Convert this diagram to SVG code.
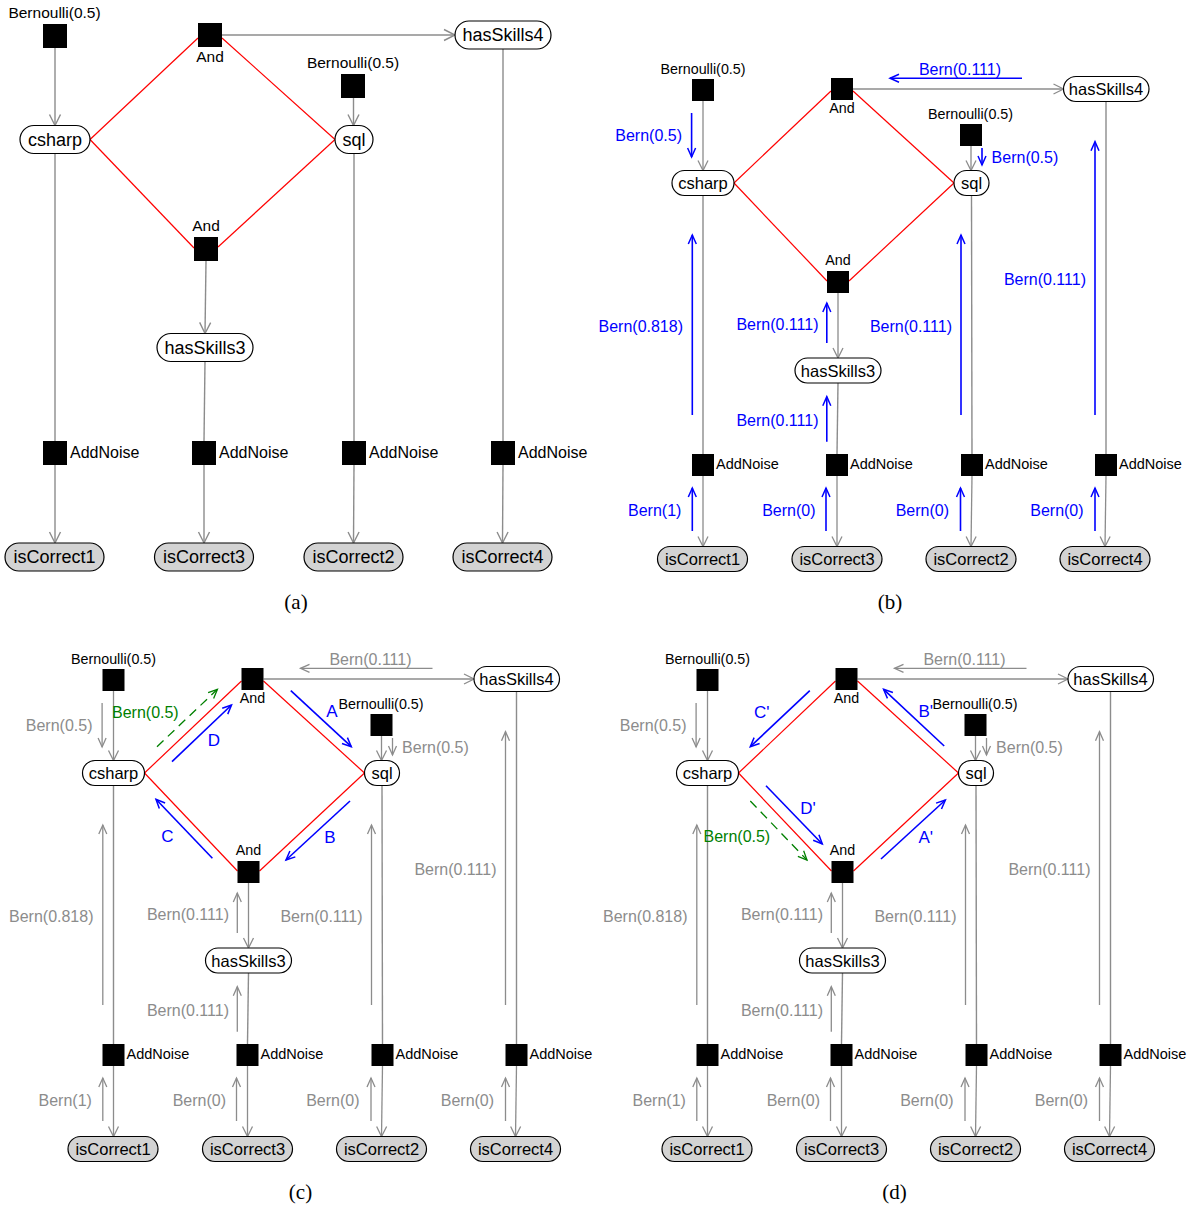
<svg xmlns="http://www.w3.org/2000/svg" width="1189" height="1209" viewBox="0 0 1189 1209">
<style>
text{font-family:"Liberation Sans",Arial,sans-serif;fill:#000}
.n{fill:#fff;stroke:#000;stroke-width:1.2}
.o{fill:#d3d3d3;stroke:#000;stroke-width:1.2}
.f{fill:#000}
.e{stroke:#8c8c8c;stroke-width:1.4;fill:none}
.ea{stroke:#8c8c8c;stroke-width:1.4;fill:none;marker-end:url(#ga)}
.eb{stroke:#8c8c8c;stroke-width:1.3;fill:none;marker-end:url(#gb)}
.r{stroke:#ff0000;stroke-width:1.2;fill:none}
.ta{font-size:18px;text-anchor:middle}
.sa{font-size:15.5px;text-anchor:middle}
.na{font-size:16px}
.tb{font-size:16.5px;text-anchor:middle}
.sb{font-size:14.3px;text-anchor:middle}
.nb{font-size:14.5px}
.l{font-size:16px}
.end{text-anchor:end}
.mid{text-anchor:middle}
.blue .m{stroke:#0000ff;stroke-width:1.6;fill:none;marker-end:url(#bl)}
.blue .l{fill:#0000ff}
.grey .m{stroke:#8c8c8c;stroke-width:1.3;fill:none;marker-end:url(#gm)}
.grey .l{fill:#8c8c8c}
.ab{stroke:#0000ff;stroke-width:1.6;fill:none;marker-end:url(#bl)}
.ablab{font-size:17px;fill:#0000ff;text-anchor:middle}
.gd{stroke:#008000;stroke-width:1.3;fill:none;stroke-dasharray:9,6;marker-end:url(#gr)}
.gl{font-size:16px;fill:#008000}
.cap{font-family:"Liberation Serif","Times New Roman",serif;font-size:21px;text-anchor:middle}
</style>
<defs>
<marker id="ga" markerUnits="userSpaceOnUse" markerWidth="14" markerHeight="14" refX="11" refY="6" orient="auto" overflow="visible"><path d="M0,0.5 L11,6 L0,11.5" fill="none" stroke="#8c8c8c" stroke-width="1.4"/></marker>
<marker id="gb" markerUnits="userSpaceOnUse" markerWidth="12" markerHeight="12" refX="10" refY="5" orient="auto" overflow="visible"><path d="M0,0 L10,5 L0,10" fill="none" stroke="#8c8c8c" stroke-width="1.3"/></marker>
<marker id="bl" markerUnits="userSpaceOnUse" markerWidth="10" markerHeight="10" refX="9" refY="4" orient="auto" overflow="visible"><path d="M0,0 L9,4 L0,8" fill="none" stroke="#0000ff" stroke-width="1.5"/></marker>
<marker id="gm" markerUnits="userSpaceOnUse" markerWidth="10" markerHeight="10" refX="9" refY="4" orient="auto" overflow="visible"><path d="M0,0 L9,4 L0,8" fill="none" stroke="#8c8c8c" stroke-width="1.3"/></marker>
<marker id="gr" markerUnits="userSpaceOnUse" markerWidth="10" markerHeight="10" refX="9" refY="4" orient="auto" overflow="visible"><path d="M0,0 L9,4 L0,8" fill="none" stroke="#008000" stroke-width="1.3"/></marker>
</defs>

<!-- ================= Panel (a) ================= -->
<g id="panel-a">
<g id="a-connectors">
<line class="ea" x1="55" y1="48" x2="55" y2="125.5"/>
<line class="ea" x1="353.5" y1="98" x2="353.5" y2="125.5"/>
<line class="ea" x1="222" y1="35" x2="455" y2="35"/>
<line class="ea" x1="206" y1="261" x2="205" y2="333.5"/>
<line class="e" x1="55" y1="153.5" x2="55" y2="441"/>
<line class="e" x1="205" y1="361.5" x2="204" y2="441"/>
<line class="e" x1="354" y1="153.5" x2="354" y2="441"/>
<line class="e" x1="503" y1="49" x2="503" y2="441"/>
<line class="ea" x1="55" y1="465" x2="55" y2="543"/>
<line class="ea" x1="204" y1="465" x2="204" y2="543"/>
<line class="ea" x1="354" y1="465" x2="353.5" y2="543"/>
<line class="ea" x1="503" y1="465" x2="502.5" y2="543"/>
<line class="r" x1="90" y1="139.5" x2="198" y2="38"/>
<line class="r" x1="222" y1="38" x2="335" y2="139.5"/>
<line class="r" x1="90" y1="139.5" x2="194" y2="248"/>
<line class="r" x1="335" y1="139.5" x2="218" y2="247"/>
</g>
<g id="a-bern1"><text class="sa" x="54.5" y="18">Bernoulli(0.5)</text><rect class="f" x="43" y="24" width="24" height="24"/></g>
<g id="a-csharp"><rect class="n" x="20" y="125.5" width="70" height="28" rx="14"/><text class="ta" x="55" y="145.8">csharp</text></g>
<g id="a-and1"><rect class="f" x="198" y="23" width="24" height="24"/><text class="sa" x="210" y="62">And</text></g>
<g id="a-bern2"><text class="sa" x="353" y="68">Bernoulli(0.5)</text><rect class="f" x="341" y="74" width="24" height="24"/></g>
<g id="a-sql"><rect class="n" x="335" y="125.5" width="38" height="28" rx="14"/><text class="ta" x="354" y="145.8">sql</text></g>
<g id="a-hasSkills4"><rect class="n" x="455" y="21" width="96" height="28" rx="14"/><text class="ta" x="503" y="41.3">hasSkills4</text></g>
<g id="a-and2"><text class="sa" x="206" y="231">And</text><rect class="f" x="194" y="237" width="24" height="24"/></g>
<g id="a-hasSkills3"><rect class="n" x="157" y="333.5" width="96" height="28" rx="14"/><text class="ta" x="205" y="353.8">hasSkills3</text></g>
<g id="a-addnoise1"><rect class="f" x="43" y="441" width="24" height="24"/><text class="na" x="70" y="457.5">AddNoise</text></g>
<g id="a-addnoise2"><rect class="f" x="192" y="441" width="24" height="24"/><text class="na" x="219" y="457.5">AddNoise</text></g>
<g id="a-addnoise3"><rect class="f" x="342" y="441" width="24" height="24"/><text class="na" x="369" y="457.5">AddNoise</text></g>
<g id="a-addnoise4"><rect class="f" x="491" y="441" width="24" height="24"/><text class="na" x="518" y="457.5">AddNoise</text></g>
<g id="a-isCorrect1"><rect class="o" x="5" y="543" width="99" height="28" rx="14"/><text class="ta" x="54.5" y="563.3">isCorrect1</text></g>
<g id="a-isCorrect3"><rect class="o" x="154.5" y="543" width="99" height="28" rx="14"/><text class="ta" x="204" y="563.3">isCorrect3</text></g>
<g id="a-isCorrect2"><rect class="o" x="304" y="543" width="99" height="28" rx="14"/><text class="ta" x="353.5" y="563.3">isCorrect2</text></g>
<g id="a-isCorrect4"><rect class="o" x="453" y="543" width="99" height="28" rx="14"/><text class="ta" x="502.5" y="563.3">isCorrect4</text></g>
<text class="cap" x="296" y="609">(a)</text>
</g>

<!-- ================= Panel (b) ================= -->
<g id="panel-b" class="blue">
<g id="b-connectors">
<line class="eb" x1="703" y1="101" x2="703" y2="170.5"/>
<line class="eb" x1="971" y1="146" x2="971" y2="170.5"/>
<line class="eb" x1="853" y1="89" x2="1063.5" y2="89"/>
<line class="eb" x1="838" y1="293" x2="838" y2="358"/>
<line class="e" x1="703" y1="195.5" x2="703" y2="454"/>
<line class="e" x1="838" y1="383" x2="837" y2="454"/>
<line class="e" x1="971.5" y1="195.5" x2="972" y2="454"/>
<line class="e" x1="1106" y1="101.5" x2="1106" y2="454"/>
<line class="eb" x1="703" y1="476" x2="703" y2="546.5"/>
<line class="eb" x1="837" y1="476" x2="837" y2="546.5"/>
<line class="eb" x1="972" y1="476" x2="971" y2="546.5"/>
<line class="eb" x1="1106" y1="476" x2="1105" y2="546.5"/>
<line class="r" x1="734" y1="183" x2="831" y2="91"/>
<line class="r" x1="853" y1="91" x2="954" y2="183"/>
<line class="r" x1="734" y1="183" x2="827" y2="281"/>
<line class="r" x1="954" y1="183" x2="849" y2="281"/>
</g>
<g id="b-messages">
<line class="m" x1="1022" y1="78.3" x2="890" y2="78.3"/><text class="l mid" x="960" y="74.5">Bern(0.111)</text>
<line class="m" x1="691.6" y1="113" x2="691.6" y2="157"/><text class="l end" x="682" y="140.5">Bern(0.5)</text>
<line class="m" x1="982" y1="148" x2="982" y2="165"/><text class="l" x="991.6" y="162.5">Bern(0.5)</text>
<line class="m" x1="692.3" y1="415" x2="692.3" y2="235"/><text class="l end" x="683" y="331.5">Bern(0.818)</text>
<line class="m" x1="826.8" y1="343" x2="826.8" y2="303"/><text class="l end" x="818.5" y="329.5">Bern(0.111)</text>
<line class="m" x1="961" y1="415" x2="961" y2="235"/><text class="l end" x="952" y="331.5">Bern(0.111)</text>
<line class="m" x1="1095" y1="415" x2="1095" y2="141.7"/><text class="l end" x="1086" y="284.5">Bern(0.111)</text>
<line class="m" x1="826.8" y1="441.7" x2="826.8" y2="396.7"/><text class="l end" x="818.5" y="425.5">Bern(0.111)</text>
<line class="m" x1="692.3" y1="531" x2="692.3" y2="488"/><text class="l end" x="681.4" y="515.5">Bern(1)</text>
<line class="m" x1="826" y1="531" x2="826" y2="488"/><text class="l end" x="815.5" y="515.5">Bern(0)</text>
<line class="m" x1="960.5" y1="531" x2="960.5" y2="488"/><text class="l end" x="949" y="515.5">Bern(0)</text>
<line class="m" x1="1095" y1="531" x2="1095" y2="488"/><text class="l end" x="1083.6" y="515.5">Bern(0)</text>
</g>
<g id="b-bern1"><text class="sb" x="703" y="74">Bernoulli(0.5)</text><rect class="f" x="692" y="79" width="22" height="22"/></g>
<g id="b-csharp"><rect class="n" x="672" y="170.5" width="62" height="25" rx="12.5"/><text class="tb" x="703" y="189">csharp</text></g>
<g id="b-and1"><rect class="f" x="831" y="78" width="22" height="22"/><text class="sb" x="842" y="113">And</text></g>
<g id="b-bern2"><text class="sb" x="970.5" y="119">Bernoulli(0.5)</text><rect class="f" x="960" y="124" width="22" height="22"/></g>
<g id="b-sql"><rect class="n" x="954" y="170.5" width="35" height="25" rx="12.5"/><text class="tb" x="971.5" y="189">sql</text></g>
<g id="b-hasSkills4"><rect class="n" x="1063.5" y="76.5" width="85.5" height="25" rx="12.5"/><text class="tb" x="1106" y="95">hasSkills4</text></g>
<g id="b-and2"><text class="sb" x="838" y="265">And</text><rect class="f" x="827" y="271" width="22" height="22"/></g>
<g id="b-hasSkills3"><rect class="n" x="795" y="358" width="86" height="25" rx="12.5"/><text class="tb" x="838" y="376.5">hasSkills3</text></g>
<g id="b-addnoise1"><rect class="f" x="692" y="454" width="22" height="22"/><text class="nb" x="716" y="469">AddNoise</text></g>
<g id="b-addnoise2"><rect class="f" x="826" y="454" width="22" height="22"/><text class="nb" x="850" y="469">AddNoise</text></g>
<g id="b-addnoise3"><rect class="f" x="961" y="454" width="22" height="22"/><text class="nb" x="985" y="469">AddNoise</text></g>
<g id="b-addnoise4"><rect class="f" x="1095" y="454" width="22" height="22"/><text class="nb" x="1119" y="469">AddNoise</text></g>
<g id="b-isCorrect1"><rect class="o" x="657.5" y="546.5" width="90" height="25" rx="12.5"/><text class="tb" x="702.5" y="565">isCorrect1</text></g>
<g id="b-isCorrect3"><rect class="o" x="792" y="546.5" width="90" height="25" rx="12.5"/><text class="tb" x="837" y="565">isCorrect3</text></g>
<g id="b-isCorrect2"><rect class="o" x="926" y="546.5" width="90" height="25" rx="12.5"/><text class="tb" x="971" y="565">isCorrect2</text></g>
<g id="b-isCorrect4"><rect class="o" x="1060" y="546.5" width="90" height="25" rx="12.5"/><text class="tb" x="1105" y="565">isCorrect4</text></g>
<text class="cap" x="890" y="609">(b)</text>
</g>

<!-- ================= Panel (c) ================= -->
<g id="panel-c" class="grey" transform="translate(-589.5,590)">
<g id="c-connectors">
<line class="eb" x1="703" y1="101" x2="703" y2="170.5"/>
<line class="eb" x1="971" y1="146" x2="971" y2="170.5"/>
<line class="eb" x1="853" y1="89" x2="1063.5" y2="89"/>
<line class="eb" x1="838" y1="293" x2="838" y2="358"/>
<line class="e" x1="703" y1="195.5" x2="703" y2="454"/>
<line class="e" x1="838" y1="383" x2="837" y2="454"/>
<line class="e" x1="971.5" y1="195.5" x2="972" y2="454"/>
<line class="e" x1="1106" y1="101.5" x2="1106" y2="454"/>
<line class="eb" x1="703" y1="476" x2="703" y2="546.5"/>
<line class="eb" x1="837" y1="476" x2="837" y2="546.5"/>
<line class="eb" x1="972" y1="476" x2="971" y2="546.5"/>
<line class="eb" x1="1106" y1="476" x2="1105" y2="546.5"/>
<line class="r" x1="734" y1="183" x2="831" y2="91"/>
<line class="r" x1="853" y1="91" x2="954" y2="183"/>
<line class="r" x1="734" y1="183" x2="827" y2="281"/>
<line class="r" x1="954" y1="183" x2="849" y2="281"/>
</g>
<g id="c-messages">
<line class="m" x1="1022" y1="78.3" x2="890" y2="78.3"/><text class="l mid" x="960" y="74.5">Bern(0.111)</text>
<line class="m" x1="691.6" y1="113" x2="691.6" y2="157"/><text class="l end" x="682" y="140.5">Bern(0.5)</text>
<line class="m" x1="982" y1="148" x2="982" y2="165"/><text class="l" x="991.6" y="162.5">Bern(0.5)</text>
<line class="m" x1="692.3" y1="415" x2="692.3" y2="235"/><text class="l end" x="683" y="331.5">Bern(0.818)</text>
<line class="m" x1="826.8" y1="343" x2="826.8" y2="303"/><text class="l end" x="818.5" y="329.5">Bern(0.111)</text>
<line class="m" x1="961" y1="415" x2="961" y2="235"/><text class="l end" x="952" y="331.5">Bern(0.111)</text>
<line class="m" x1="1095" y1="415" x2="1095" y2="141.7"/><text class="l end" x="1086" y="284.5">Bern(0.111)</text>
<line class="m" x1="826.8" y1="441.7" x2="826.8" y2="396.7"/><text class="l end" x="818.5" y="425.5">Bern(0.111)</text>
<line class="m" x1="692.3" y1="531" x2="692.3" y2="488"/><text class="l end" x="681.4" y="515.5">Bern(1)</text>
<line class="m" x1="826" y1="531" x2="826" y2="488"/><text class="l end" x="815.5" y="515.5">Bern(0)</text>
<line class="m" x1="960.5" y1="531" x2="960.5" y2="488"/><text class="l end" x="949" y="515.5">Bern(0)</text>
<line class="m" x1="1095" y1="531" x2="1095" y2="488"/><text class="l end" x="1083.6" y="515.5">Bern(0)</text>
<line class="gd" x1="746.5" y1="156.7" x2="806.9" y2="99.3"/><text class="gl" x="701.5" y="127.8">Bern(0.5)</text>
<line class="ab" x1="761.5" y1="171.7" x2="821" y2="115"/><text class="ablab" x="803.5" y="156">D</text>
<line class="ab" x1="880.3" y1="100.7" x2="940.8" y2="156.7"/><text class="ablab" x="921.5" y="127">A</text>
<line class="ab" x1="939.5" y1="211" x2="875.5" y2="270"/><text class="ablab" x="919.5" y="252.5">B</text>
<line class="ab" x1="801.9" y1="268.3" x2="745.5" y2="209.3"/><text class="ablab" x="757" y="252">C</text>
</g>
<g id="c-bern1"><text class="sb" x="703" y="74">Bernoulli(0.5)</text><rect class="f" x="692" y="79" width="22" height="22"/></g>
<g id="c-csharp"><rect class="n" x="672" y="170.5" width="62" height="25" rx="12.5"/><text class="tb" x="703" y="189">csharp</text></g>
<g id="c-and1"><rect class="f" x="831" y="78" width="22" height="22"/><text class="sb" x="842" y="113">And</text></g>
<g id="c-bern2"><text class="sb" x="970.5" y="119">Bernoulli(0.5)</text><rect class="f" x="960" y="124" width="22" height="22"/></g>
<g id="c-sql"><rect class="n" x="954" y="170.5" width="35" height="25" rx="12.5"/><text class="tb" x="971.5" y="189">sql</text></g>
<g id="c-hasSkills4"><rect class="n" x="1063.5" y="76.5" width="85.5" height="25" rx="12.5"/><text class="tb" x="1106" y="95">hasSkills4</text></g>
<g id="c-and2"><text class="sb" x="838" y="265">And</text><rect class="f" x="827" y="271" width="22" height="22"/></g>
<g id="c-hasSkills3"><rect class="n" x="795" y="358" width="86" height="25" rx="12.5"/><text class="tb" x="838" y="376.5">hasSkills3</text></g>
<g id="c-addnoise1"><rect class="f" x="692" y="454" width="22" height="22"/><text class="nb" x="716" y="469">AddNoise</text></g>
<g id="c-addnoise2"><rect class="f" x="826" y="454" width="22" height="22"/><text class="nb" x="850" y="469">AddNoise</text></g>
<g id="c-addnoise3"><rect class="f" x="961" y="454" width="22" height="22"/><text class="nb" x="985" y="469">AddNoise</text></g>
<g id="c-addnoise4"><rect class="f" x="1095" y="454" width="22" height="22"/><text class="nb" x="1119" y="469">AddNoise</text></g>
<g id="c-isCorrect1"><rect class="o" x="657.5" y="546.5" width="90" height="25" rx="12.5"/><text class="tb" x="702.5" y="565">isCorrect1</text></g>
<g id="c-isCorrect3"><rect class="o" x="792" y="546.5" width="90" height="25" rx="12.5"/><text class="tb" x="837" y="565">isCorrect3</text></g>
<g id="c-isCorrect2"><rect class="o" x="926" y="546.5" width="90" height="25" rx="12.5"/><text class="tb" x="971" y="565">isCorrect2</text></g>
<g id="c-isCorrect4"><rect class="o" x="1060" y="546.5" width="90" height="25" rx="12.5"/><text class="tb" x="1105" y="565">isCorrect4</text></g>
<text class="cap" x="890" y="609">(c)</text>
</g>

<!-- ================= Panel (d) ================= -->
<g id="panel-d" class="grey" transform="translate(4.5,590)">
<g id="d-connectors">
<line class="eb" x1="703" y1="101" x2="703" y2="170.5"/>
<line class="eb" x1="971" y1="146" x2="971" y2="170.5"/>
<line class="eb" x1="853" y1="89" x2="1063.5" y2="89"/>
<line class="eb" x1="838" y1="293" x2="838" y2="358"/>
<line class="e" x1="703" y1="195.5" x2="703" y2="454"/>
<line class="e" x1="838" y1="383" x2="837" y2="454"/>
<line class="e" x1="971.5" y1="195.5" x2="972" y2="454"/>
<line class="e" x1="1106" y1="101.5" x2="1106" y2="454"/>
<line class="eb" x1="703" y1="476" x2="703" y2="546.5"/>
<line class="eb" x1="837" y1="476" x2="837" y2="546.5"/>
<line class="eb" x1="972" y1="476" x2="971" y2="546.5"/>
<line class="eb" x1="1106" y1="476" x2="1105" y2="546.5"/>
<line class="r" x1="734" y1="183" x2="831" y2="91"/>
<line class="r" x1="853" y1="91" x2="954" y2="183"/>
<line class="r" x1="734" y1="183" x2="827" y2="281"/>
<line class="r" x1="954" y1="183" x2="849" y2="281"/>
</g>
<g id="d-messages">
<line class="m" x1="1022" y1="78.3" x2="890" y2="78.3"/><text class="l mid" x="960" y="74.5">Bern(0.111)</text>
<line class="m" x1="691.6" y1="113" x2="691.6" y2="157"/><text class="l end" x="682" y="140.5">Bern(0.5)</text>
<line class="m" x1="982" y1="148" x2="982" y2="165"/><text class="l" x="991.6" y="162.5">Bern(0.5)</text>
<line class="m" x1="692.3" y1="415" x2="692.3" y2="235"/><text class="l end" x="683" y="331.5">Bern(0.818)</text>
<line class="m" x1="826.8" y1="343" x2="826.8" y2="303"/><text class="l end" x="818.5" y="329.5">Bern(0.111)</text>
<line class="m" x1="961" y1="415" x2="961" y2="235"/><text class="l end" x="952" y="331.5">Bern(0.111)</text>
<line class="m" x1="1095" y1="415" x2="1095" y2="141.7"/><text class="l end" x="1086" y="284.5">Bern(0.111)</text>
<line class="m" x1="826.8" y1="441.7" x2="826.8" y2="396.7"/><text class="l end" x="818.5" y="425.5">Bern(0.111)</text>
<line class="m" x1="692.3" y1="531" x2="692.3" y2="488"/><text class="l end" x="681.4" y="515.5">Bern(1)</text>
<line class="m" x1="826" y1="531" x2="826" y2="488"/><text class="l end" x="815.5" y="515.5">Bern(0)</text>
<line class="m" x1="960.5" y1="531" x2="960.5" y2="488"/><text class="l end" x="949" y="515.5">Bern(0)</text>
<line class="m" x1="1095" y1="531" x2="1095" y2="488"/><text class="l end" x="1083.6" y="515.5">Bern(0)</text>
<line class="ab" x1="805.3" y1="100.7" x2="745.8" y2="156.7"/><text class="ablab" x="757.2" y="127.5">C'</text>
<line class="ab" x1="939.7" y1="156" x2="879.1" y2="99.3"/><text class="ablab" x="921.2" y="127">B'</text>
<line class="ab" x1="761.5" y1="195.7" x2="817.8" y2="254"/><text class="ablab" x="803.5" y="223.5">D'</text>
<line class="gd" x1="745.8" y1="211" x2="802.5" y2="270"/><text class="gl" x="699" y="251.5">Bern(0.5)</text>
<line class="ab" x1="876.5" y1="269" x2="940.9" y2="210"/><text class="ablab" x="921.2" y="253">A'</text>
</g>
<g id="d-bern1"><text class="sb" x="703" y="74">Bernoulli(0.5)</text><rect class="f" x="692" y="79" width="22" height="22"/></g>
<g id="d-csharp"><rect class="n" x="672" y="170.5" width="62" height="25" rx="12.5"/><text class="tb" x="703" y="189">csharp</text></g>
<g id="d-and1"><rect class="f" x="831" y="78" width="22" height="22"/><text class="sb" x="842" y="113">And</text></g>
<g id="d-bern2"><text class="sb" x="970.5" y="119">Bernoulli(0.5)</text><rect class="f" x="960" y="124" width="22" height="22"/></g>
<g id="d-sql"><rect class="n" x="954" y="170.5" width="35" height="25" rx="12.5"/><text class="tb" x="971.5" y="189">sql</text></g>
<g id="d-hasSkills4"><rect class="n" x="1063.5" y="76.5" width="85.5" height="25" rx="12.5"/><text class="tb" x="1106" y="95">hasSkills4</text></g>
<g id="d-and2"><text class="sb" x="838" y="265">And</text><rect class="f" x="827" y="271" width="22" height="22"/></g>
<g id="d-hasSkills3"><rect class="n" x="795" y="358" width="86" height="25" rx="12.5"/><text class="tb" x="838" y="376.5">hasSkills3</text></g>
<g id="d-addnoise1"><rect class="f" x="692" y="454" width="22" height="22"/><text class="nb" x="716" y="469">AddNoise</text></g>
<g id="d-addnoise2"><rect class="f" x="826" y="454" width="22" height="22"/><text class="nb" x="850" y="469">AddNoise</text></g>
<g id="d-addnoise3"><rect class="f" x="961" y="454" width="22" height="22"/><text class="nb" x="985" y="469">AddNoise</text></g>
<g id="d-addnoise4"><rect class="f" x="1095" y="454" width="22" height="22"/><text class="nb" x="1119" y="469">AddNoise</text></g>
<g id="d-isCorrect1"><rect class="o" x="657.5" y="546.5" width="90" height="25" rx="12.5"/><text class="tb" x="702.5" y="565">isCorrect1</text></g>
<g id="d-isCorrect3"><rect class="o" x="792" y="546.5" width="90" height="25" rx="12.5"/><text class="tb" x="837" y="565">isCorrect3</text></g>
<g id="d-isCorrect2"><rect class="o" x="926" y="546.5" width="90" height="25" rx="12.5"/><text class="tb" x="971" y="565">isCorrect2</text></g>
<g id="d-isCorrect4"><rect class="o" x="1060" y="546.5" width="90" height="25" rx="12.5"/><text class="tb" x="1105" y="565">isCorrect4</text></g>
<text class="cap" x="890" y="609">(d)</text>
</g>
</svg>
